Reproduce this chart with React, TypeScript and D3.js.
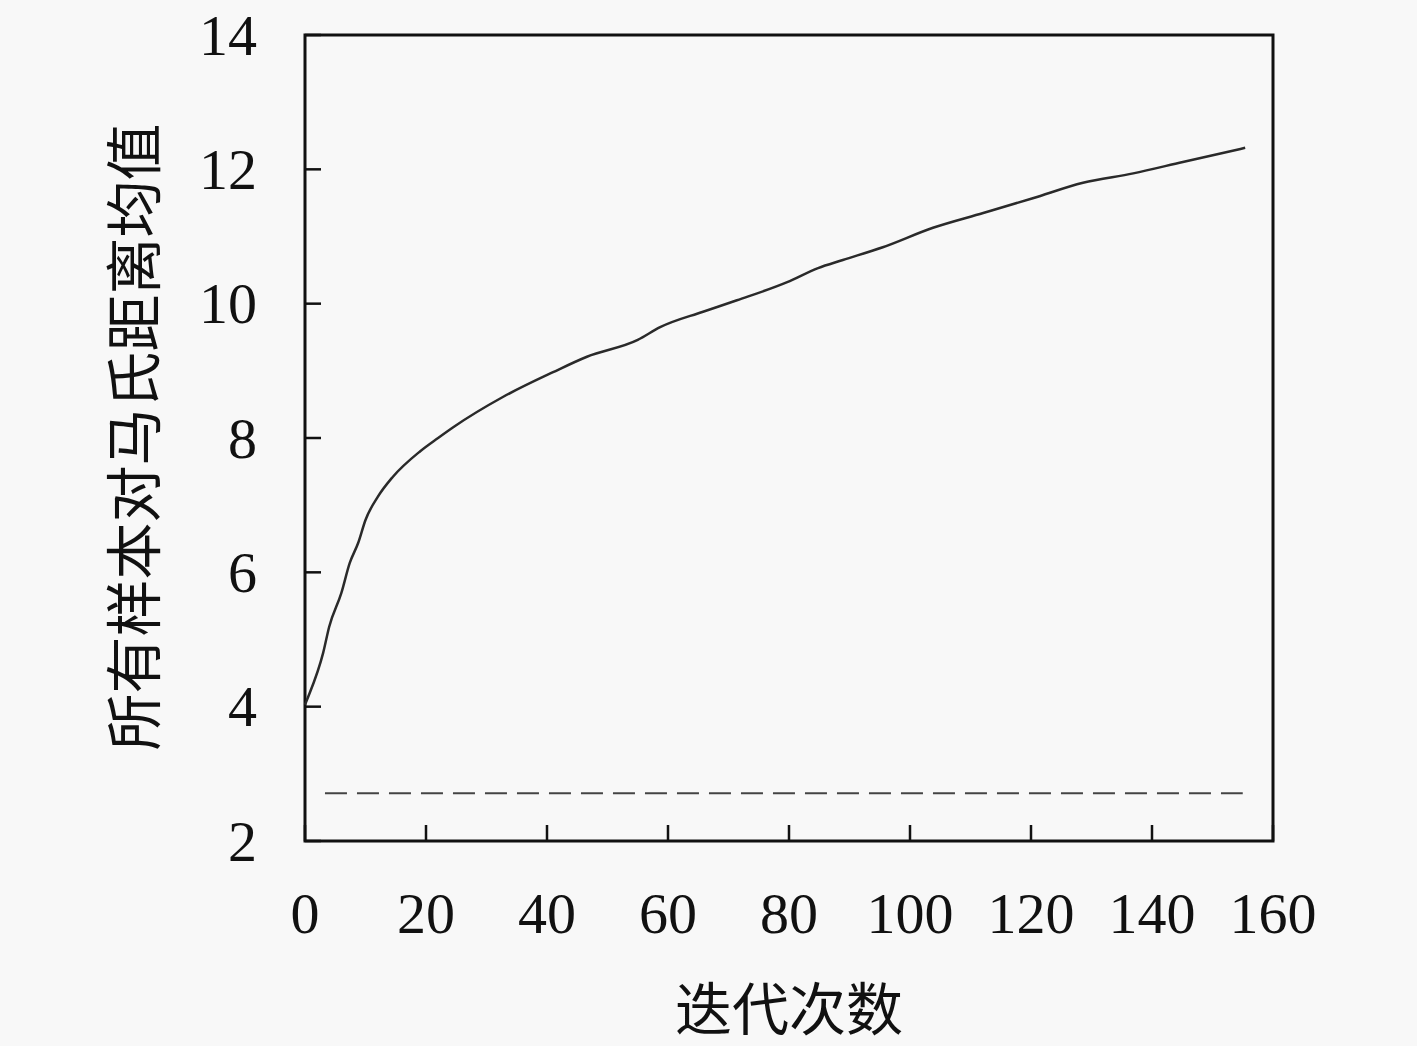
import { useEffect, useRef } from 'react';
import * as d3 from 'd3';

// iteration index and mean Mahalanobis distance
const iterations = [0, 0.5, 3, 4, 6, 7.4, 8.8, 10, 12, 14.5, 19, 22, 24.5, 32.7, 41, 46.6, 55, 58.7, 65.8, 71.4, 79.7, 84.8, 88.9, 95.5, 103.8, 112.1, 120.3, 128.6, 136.9, 145.1, 155.4];
const meanDistance = [4.03, 4.14, 4.8, 5.19, 5.69, 6.14, 6.44, 6.78, 7.12, 7.42, 7.8, 8.0, 8.16, 8.61, 8.98, 9.21, 9.46, 9.65, 9.88, 10.05, 10.32, 10.53, 10.65, 10.84, 11.13, 11.35, 11.57, 11.8, 11.94, 12.11, 12.32];

// dashed reference level
const refStart = 3.3;
const refEnd = 155;
const refValue = 2.71;

const xTicks = [0, 20, 40, 60, 80, 100, 120, 140, 160];
const yTicks = [2, 4, 6, 8, 10, 12, 14];

const yTitle = '所有样本对马氏距离均值';
const xTitle = '迭代次数';

export default function App() {
  const svgRef = useRef<SVGSVGElement>(null);

  useEffect(() => {
    if (!svgRef.current) return;
    const width = 1417;
    const height = 1046;
    const margin = { top: 35, right: 144, bottom: 205, left: 305 };

    const svg = d3.select(svgRef.current);
    svg.selectAll('*').remove();

    svg.append('rect')
      .attr('width', width).attr('height', height)
      .attr('fill', '#f8f8f8');

    const x = d3.scaleLinear().domain([0, 160]).range([margin.left, width - margin.right]);
    const y = d3.scaleLinear().domain([2, 14]).range([height - margin.bottom, margin.top]);

    const numFont = '"Liberation Serif", "DejaVu Serif", serif';
    const cjkFont = '"Noto Sans CJK SC", sans-serif';

    // ticks (inward, left and bottom only)
    const tickLen = 16;
    svg.append('g')
      .selectAll('line')
      .data(yTicks)
      .join('line')
      .attr('x1', x(0)).attr('x2', x(0) + tickLen)
      .attr('y1', d => y(d)).attr('y2', d => y(d))
      .attr('stroke', '#111').attr('stroke-width', 2.5);

    svg.append('g')
      .selectAll('line')
      .data(xTicks)
      .join('line')
      .attr('x1', d => x(d)).attr('x2', d => x(d))
      .attr('y1', y(2)).attr('y2', y(2) - tickLen)
      .attr('stroke', '#111').attr('stroke-width', 2.5);

    // frame
    svg.append('rect')
      .attr('x', x(0)).attr('y', y(14))
      .attr('width', x(160) - x(0)).attr('height', y(2) - y(14))
      .attr('fill', 'none')
      .attr('stroke', '#111').attr('stroke-width', 3);

    // tick labels
    svg.append('g')
      .selectAll('text')
      .data(yTicks)
      .join('text')
      .attr('x', 257).attr('y', d => y(d))
      .attr('text-anchor', 'end')
      .attr('dominant-baseline', 'central')
      .style('font-family', numFont)
      .style('font-size', '58px')
      .style('fill', '#111')
      .text(d => d);

    svg.append('g')
      .selectAll('text')
      .data(xTicks)
      .join('text')
      .attr('x', d => x(d)).attr('y', 913)
      .attr('text-anchor', 'middle')
      .attr('dominant-baseline', 'central')
      .style('font-family', numFont)
      .style('font-size', '58px')
      .style('fill', '#111')
      .text(d => d);

    // reference dashed line
    svg.append('line')
      .attr('x1', x(refStart)).attr('x2', x(refEnd))
      .attr('y1', y(refValue)).attr('y2', y(refValue))
      .attr('stroke', '#444').attr('stroke-width', 2)
      .attr('stroke-dasharray', '22,10');

    // curve
    const pts = iterations.map((it, i) => [it, meanDistance[i]] as [number, number]);
    const line = d3.line<[number, number]>()
      .x(d => x(d[0]))
      .y(d => y(d[1]))
      .curve(d3.curveMonotoneX);

    svg.append('path')
      .datum(pts)
      .attr('d', line)
      .attr('fill', 'none')
      .attr('stroke', '#2a2a2a')
      .attr('stroke-width', 2.5);

    // axis titles
    svg.append('text')
      .attr('transform', `translate(130,437) rotate(-90)`)
      .attr('text-anchor', 'middle')
      .attr('dominant-baseline', 'central')
      .style('font-family', cjkFont)
      .style('font-size', '57px')
      .style('fill', '#111')
      .text(yTitle);

    svg.append('text')
      .attr('x', 789).attr('y', 1005)
      .attr('text-anchor', 'middle')
      .attr('dominant-baseline', 'central')
      .style('font-family', cjkFont)
      .style('font-size', '57px')
      .style('fill', '#111')
      .text(xTitle);
  }, []);

  return (
    <svg
      ref={svgRef}
      width={1417}
      height={1046}
      style={{ position: 'absolute', left: 0, top: 0 }}
    />
  );
}
